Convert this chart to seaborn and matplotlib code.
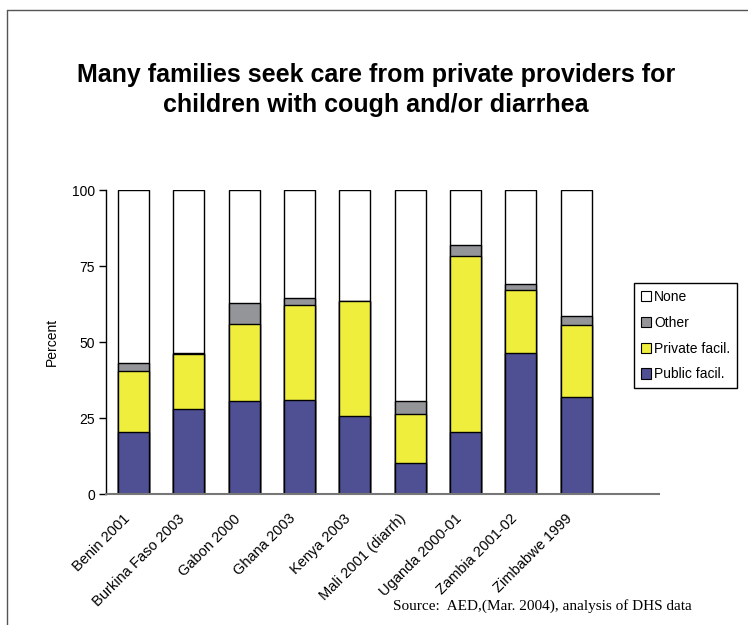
import numpy as np
import pandas as pd
import matplotlib
matplotlib.use("Agg")
import matplotlib.pyplot as plt
import matplotlib.transforms as mtransforms
from matplotlib.patches import Patch
from matplotlib.lines import Line2D
import seaborn as sns

# Care-seeking source for children with cough and/or diarrhea (percent)
countries = ["Benin 2001", "Burkina Faso 2003", "Gabon 2000", "Ghana 2003",
             "Kenya 2003", "Mali 2001 (diarrh)", "Uganda 2000-01",
             "Zambia 2001-02", "Zimbabwe 1999"]
public_facil = [20.4, 28.1, 30.6, 31.0, 25.6, 10.2, 20.4, 46.3, 32.0]
private_facil = [20.0, 17.9, 25.2, 31.2, 37.8, 16.1, 57.8, 20.7, 23.5]
other = [2.8, 0.3, 7.0, 2.4, 0.1, 4.3, 3.6, 2.2, 3.2]
none = [56.8, 53.7, 37.2, 35.4, 36.5, 69.4, 18.2, 30.8, 41.3]

series_names = ["Public facil.", "Private facil.", "Other", "None"]
colors = {"Public facil.": "#4F4F94", "Private facil.": "#F0EE3C",
          "Other": "#939598", "None": "#FFFFFF"}

df = pd.DataFrame({"country": countries, "Public facil.": public_facil,
                   "Private facil.": private_facil, "Other": other, "None": none})
# cumulative tops of each stacked segment
tops = df[series_names].cumsum(axis=1)
tops["country"] = df["country"]

sns.set_style("white")
plt.rcParams["font.family"] = ["Liberation Sans", "DejaVu Sans"]
plt.rcParams["text.color"] = "black"
plt.rcParams["axes.labelcolor"] = "black"
plt.rcParams["xtick.color"] = "black"
plt.rcParams["ytick.color"] = "black"

fig = plt.figure(figsize=(7.48, 6.25), dpi=100)
ax = fig.add_axes([106 / 748, 1 - 494 / 625, (659 - 106) / 748, (494 - 190) / 625])

# draw from the tallest stack down so each segment shows its own colour
for name in reversed(series_names):
    sns.barplot(data=tops, x="country", y=name, color=colors[name],
                saturation=1, edgecolor="black", linewidth=1.0,
                width=0.56, ax=ax)

ax.set_xlim(-0.5, 9.5)
ax.set_ylim(0, 100)
ax.set_yticks([0, 25, 50, 75, 100])
ax.tick_params(axis="y", labelsize=10, length=5, width=1, color="black",
               labelcolor="black", direction="out", left=True, pad=3)
ax.tick_params(axis="x", labelsize=10.5, length=0, pad=4, labelcolor="black")
ax.set_xticks(range(len(countries)))
ax.set_xticklabels(countries, rotation=45, ha="right", rotation_mode="anchor")
shift = mtransforms.ScaledTranslation(-0.11, -0.12, fig.dpi_scale_trans)
for lab in ax.get_xticklabels():
    lab.set_transform(lab.get_transform() + shift)
ax.set_xlabel("")
ax.set_ylabel("Percent", fontsize=10, labelpad=9, color="black")

for side in ["top", "right"]:
    ax.spines[side].set_visible(False)
ax.spines["left"].set_color("black")
ax.spines["left"].set_linewidth(1.0)
ax.spines["bottom"].set_color("#777777")
ax.spines["bottom"].set_linewidth(1.5)

handles = [Patch(facecolor=colors[n], edgecolor="black", linewidth=0.8, label=n)
           for n in reversed(series_names)]
leg = fig.legend(handles=handles, loc="upper left",
                 bbox_to_anchor=(634 / 748, 1 - 283 / 625), borderaxespad=0,
                 fontsize=10, frameon=True, fancybox=False, edgecolor="black",
                 framealpha=1, handlelength=0.75, handleheight=0.75,
                 handletextpad=0.2, labelspacing=0.85, borderpad=0.5)
for t in leg.get_texts():
    t.set_color("black")

fig.text(376 / 748, 1 - 90 / 625,
         "Many families seek care from private providers for\n"
         "children with cough and/or diarrhea",
         ha="center", va="center", fontsize=18, fontweight="bold",
         linespacing=1.33, color="black")

fig.text(393 / 748, 1 - 610 / 625,
         "Source:  AED,(Mar. 2004), analysis of DHS data",
         ha="left", va="baseline", fontsize=11, color="black",
         family=["Liberation Serif", "DejaVu Serif"])

# slide frame along the top and left edges
fig.add_artist(Line2D([7 / 748, 1], [1 - 10 / 625, 1 - 10 / 625],
                      transform=fig.transFigure, color="#555555", linewidth=1))
fig.add_artist(Line2D([7 / 748, 7 / 748], [0, 1 - 10 / 625],
                      transform=fig.transFigure, color="#555555", linewidth=1))

fig.savefig("out.png", dpi=100)
